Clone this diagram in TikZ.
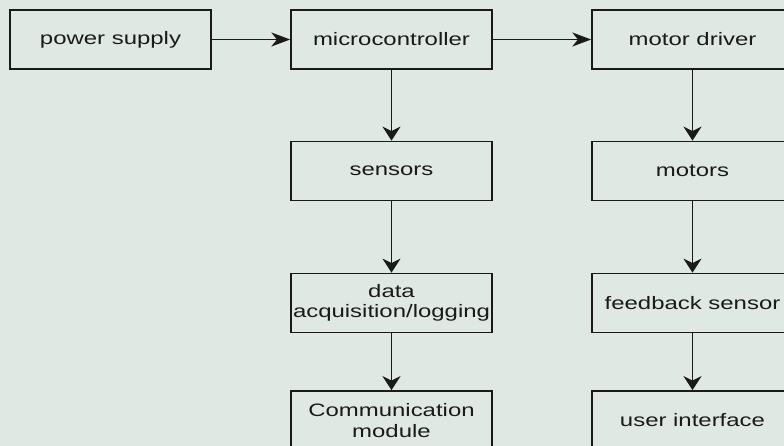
\documentclass[tikz,border=0pt]{standalone}
\usepackage{fontspec}
\newfontfamily\blockfont[FakeStretch=1.33]{Liberation Sans}
\usetikzlibrary{arrows.meta}
\definecolor{bgmint}{RGB}{223,232,227}
\definecolor{inkgray}{RGB}{26,26,26}
\tikzset{
  block/.style={draw=inkgray, line width=1.2pt, fill=bgmint, minimum width=5.025cm,
    minimum height=1.475cm, inner sep=0pt, align=center, text=inkgray,
    font=\blockfont\fontsize{12.8}{14.5}\selectfont},
  hflow/.style={draw=inkgray, line width=1.2pt, -{Stealth[length=0.47cm,width=0.35cm,inset=0.14cm]}},
  vflow/.style={draw=inkgray, line width=1.2pt, -{Stealth[length=0.35cm,width=0.45cm,inset=0.11cm]}}
}

\begin{document}
\begin{tikzpicture}[x=0.025cm, y=-0.025cm]
  \fill[bgmint] (0,0) rectangle (784,446);
  \useasboundingbox (0,0) rectangle (784,446);
  \clip (0,0) rectangle (784,446);
  %top row
  \node[block] (power) at (110.5,39.5) {power supply};
  \node[block] (mcu) at (391.5,39.5) {microcontroller};
  \node[block] (driver) at (692.5,39.5) {motor driver};
  %middle column
  \node[block] (sensors) at (391.5,171) {sensors};
  \node[block] (daq) at (391.5,303) {data\\acquisition/logging};
  \node[block] (comm) at (391.5,420.5) {Communication\\module};
  %right column
  \node[block] (motors) at (692.5,171) {motors};
  \node[block] (feedback) at (692.5,303) {feedback sensor};
  \node[block] (ui) at (692.5,420.5) {user interface};
  \draw[hflow] (power) -- (mcu);
  \draw[hflow] (mcu) -- (driver);
  \draw[vflow] (mcu) -- (sensors);
  \draw[vflow] (sensors) -- (daq);
  \draw[vflow] (daq) -- (comm);
  \draw[vflow] (driver) -- (motors);
  \draw[vflow] (motors) -- (feedback);
  \draw[vflow] (feedback) -- (ui);
\end{tikzpicture}
\end{document}
